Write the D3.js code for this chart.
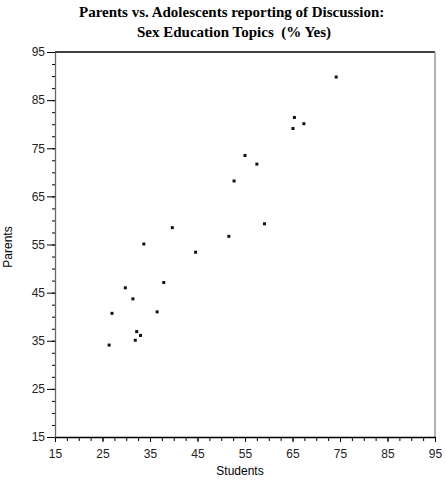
<!DOCTYPE html>
<html>
<head>
<meta charset="utf-8">
<script src="https://cdn.jsdelivr.net/npm/d3@7"></script>
<style>
  body { margin: 0; background: #fff; }
  .tick text { font-family: "Liberation Sans", Arial, sans-serif; font-size: 12px; fill: #222; }
</style>
</head>
<body>
<div id="chart"></div>
<script>
// % yes, one entry per topic
var studentsPct = [74.2, 65.4, 67.4, 65.1, 55.0, 57.5, 52.7, 39.7, 59.1, 51.6, 33.7,
                   44.6, 37.9, 29.8, 31.4, 27.0, 36.5, 32.2, 33.0, 31.9, 26.4];
var parentsPct  = [89.8, 81.4, 80.1, 79.1, 73.5, 71.7, 68.2, 58.5, 59.3, 56.7, 55.1,
                   53.4, 47.1, 46.0, 43.7, 40.7, 41.0, 36.9, 36.1, 35.1, 34.1];

var xTicks = [15, 25, 35, 45, 55, 65, 75, 85, 95];
var yTicks = [15, 25, 35, 45, 55, 65, 75, 85, 95];
var minorTicks = d3.range(15, 95.01, 2.5);

var titleLines = ["Parents vs. Adolescents reporting of Discussion:", "Sex Education Topics  (% Yes)"];

var margin = {top: 52, right: 11, bottom: 43, left: 55};
var width = 446 - margin.left - margin.right,
    height = 480 - margin.top - margin.bottom;

var svg = d3.select("#chart").append("svg")
    .attr("width", 446)
    .attr("height", 480);

var g = svg.append("g")
    .attr("transform", "translate(" + margin.left + "," + margin.top + ")");

var xScale = d3.scaleLinear().domain([15, 95]).range([0, width]);
var yScale = d3.scaleLinear().domain([15, 95]).range([height, 0]);

// minor ticks first so the major ones sit on top
g.append("g")
    .attr("transform", "translate(0," + height + ")")
    .call(d3.axisBottom(xScale).tickValues(minorTicks).tickSize(4).tickFormat(""))
    .call(a => a.select(".domain").remove());

g.append("g")
    .call(d3.axisLeft(yScale).tickValues(minorTicks).tickSize(3).tickFormat(""))
    .call(a => a.select(".domain").remove());

// frame: top black, right grey
g.append("line").attr("x1", 0).attr("x2", width).attr("y1", 0).attr("y2", 0)
    .style("stroke", "#000").style("stroke-width", 1.5);
g.append("line").attr("x1", width).attr("x2", width).attr("y1", 0).attr("y2", height)
    .style("stroke", "#999").style("stroke-width", 1.5);

var xAxis = g.append("g")
    .attr("transform", "translate(0," + height + ")")
    .call(d3.axisBottom(xScale).tickValues(xTicks).tickSize(5).tickPadding(7).tickSizeOuter(0));
xAxis.select(".domain").style("stroke", "#000").style("stroke-width", 1.3);

var yAxis = g.append("g")
    .call(d3.axisLeft(yScale).tickValues(yTicks).tickSize(8).tickPadding(2).tickSizeOuter(0));
yAxis.select(".domain").style("stroke", "#666").style("stroke-width", 1.3);

g.selectAll(".dot")
    .data(studentsPct)
  .enter().append("rect")
    .attr("class", "dot")
    .attr("x", function(d) { return xScale(d) - 1.5; })
    .attr("y", function(d, i) { return yScale(parentsPct[i]) - 1.5; })
    .attr("width", 3)
    .attr("height", 3)
    .style("fill", "#111");

svg.append("text").attr("x", 79).attr("y", 17)
    .style("font-family", "Liberation Serif, Times New Roman, serif")
    .style("font-weight", "bold").style("font-size", "15px")
    .text(titleLines[0]);
svg.append("text").attr("x", 137).attr("y", 37)
    .style("font-family", "Liberation Serif, Times New Roman, serif")
    .style("font-weight", "bold").style("font-size", "15px")
    .style("white-space", "pre")
    .text(titleLines[1]);

svg.append("text").attr("x", 240).attr("y", 475)
    .attr("text-anchor", "middle")
    .style("font-family", "Liberation Sans, Arial, sans-serif").style("font-size", "12px")
    .text("Students");

svg.append("text").attr("x", -247).attr("y", 12)
    .attr("transform", "rotate(-90)")
    .attr("text-anchor", "middle")
    .style("font-family", "Liberation Sans, Arial, sans-serif").style("font-size", "12px")
    .text("Parents");
</script>
</body>
</html>
